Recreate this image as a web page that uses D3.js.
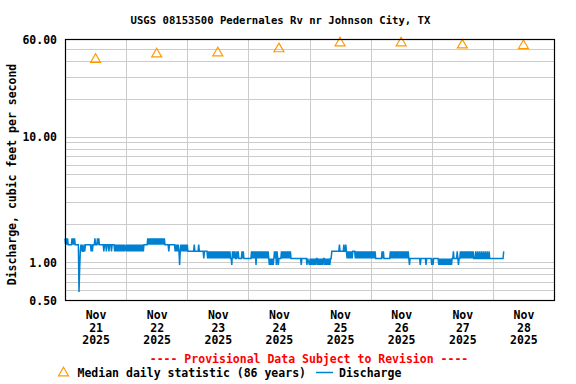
<!DOCTYPE html>
<html>
<head>
<meta charset="utf-8">
<script src="https://cdn.jsdelivr.net/npm/d3@7"></script>
<style>
  body { margin: 0; background: #fff; }
  text { font-family: "DejaVu Sans Mono", "Liberation Mono", monospace; font-weight: bold; }
</style>
</head>
<body>
<div class="chartContainer"></div>
<script>
// daily median statistic, one per day (ft3/s)
const medianDays = ["2025-11-21", "2025-11-22", "2025-11-23", "2025-11-24", "2025-11-25", "2025-11-26", "2025-11-27", "2025-11-28"];
const medianValues = [42.3, 46.8, 47.7, 51.4, 57.3, 57.3, 55.1, 54.5];

// discharge levels seen in the 15-minute record
const levelCodes = ["A", "B", "C", "D", "E", "F", "G"];
const levelValues = [1.55, 1.38, 1.22, 1.07, 0.95, 0.58, 0.88];

// 15-minute readings, one string per day starting Nov 21 00:00
const dischargeCodes = [
  "ABABABBBBBBABABABBBBBBFGCBCBCCBCBBBBBBBBBCBCBBBABBBABABBBBBBBCBBBCBBBCBBBCBBBBCBCBCBCBCBCBCBCBC",
  "BCBCBCBCBCBCBCBCBCBCBCBCBCBCBBBBBBABABABABABABABABABABABABABABBBBBBCBBBBBBBBBCBCBCBCECBCBCBCBCBCBC",
  "CCCCCCCCCCCBCCCCCCBCCCCCCCDCCCCCDCDCDCDCDCDCDCDCDCDCDCDCDCDCDCDCDCDCDDECDCDCDDCDCDDDDDCDCDDDDDD",
  "DDDDDCDCDCDCECDCDCDCDCDCDCDCDCDCDEDEDEDEDCDCECDEDDDDCDCDCDCDCDCDCDCDDDDDDDDDDDDDDDDEDDDDDDDDED",
  "EDEDEDEDEDEDDEDEDEDEDEDDEDEDEDEDEDDCCCCCCCCCCCCBCCCCCCBCCBCDCDCDCDCDCCCCDCDCDCDCDCDCDCDCDCDCDCDC",
  "DCDCDCDCDDDDDDDDDDCDCDDDDDDDDDDCDCDCDCDCDCDCDCDCDCDCDCDCDCDCDEDDDDDDDDDDDDDDDDEDDDDDDDDEDDDDDDDD",
  "EDEDDDDDDDDEDEDEDEDEDEDEDEDEDEDEDDCDDDDDCDEDDCDCDCDCDCDCDCDCDCDCDCDDDCDDCDDCDDCDDCDDCDDCDDCDDDDD",
  "DDDDDDDDDDDDDDDDDC"
];

// axis labels
const yTickValues = [0.5, 1, 10, 60];
const yGridValues = [0.6, 0.7, 0.8, 0.9, 1, 2, 3, 4, 5, 6, 7, 8, 9, 10, 20, 30, 40, 50];
const xTickMonth = "Nov";
const xTickYear = "2025";

const w = 576;
const h = 384;
const plotL = 65, plotR = 554, plotT = 39, plotB = 300;

const start = new Date(2025, 10, 21);
const end = new Date(2025, 10, 29);
const quarter = 15 * 60 * 1000;

const discharge = [];
dischargeCodes.forEach((day, d) => {
  for (let i = 0; i < day.length; i++) {
    discharge.push({
      t: new Date(start.getTime() + (d * 96 + i) * quarter),
      v: levelValues[levelCodes.indexOf(day[i])]
    });
  }
});

const medians = medianDays.map((s, i) => {
  const p = s.split("-").map(Number);
  return { t: new Date(p[0], p[1] - 1, p[2], 12), v: medianValues[i] };
});

const x = d3.scaleTime().domain([start, end]).range([plotL, plotR]);
const y = d3.scaleLog().domain([0.5, 60]).range([plotB, plotT]);

const svg = d3.select(".chartContainer").append("svg")
  .attr("width", w).attr("height", h);

// grid
svg.append("g").selectAll("line").data(yGridValues).enter().append("line")
  .attr("x1", plotL).attr("x2", plotR)
  .attr("y1", d => Math.round(y(d)) + 0.5).attr("y2", d => Math.round(y(d)) + 0.5)
  .attr("stroke", "#cccccc").attr("stroke-width", 1);

svg.append("g").selectAll("line").data(d3.timeDay.range(d3.timeDay.offset(start, 1), end)).enter().append("line")
  .attr("x1", d => Math.round(x(d)) + 0.5).attr("x2", d => Math.round(x(d)) + 0.5)
  .attr("y1", plotT).attr("y2", plotB)
  .attr("stroke", "#cccccc").attr("stroke-width", 1);

// discharge line
const line = d3.line().x(d => x(d.t)).y(d => y(d.v));
svg.append("path").datum(discharge)
  .attr("d", line)
  .attr("fill", "none")
  .attr("stroke", "#0080d0")
  .attr("stroke-width", 1.5);

// median triangles
const tri = "M0,-4.8L5,3.8L-5,3.8Z";
svg.append("g").selectAll("path").data(medians).enter().append("path")
  .attr("d", tri)
  .attr("transform", d => "translate(" + x(d.t) + "," + (y(d.v) + 0.5) + ")")
  .attr("fill", "none")
  .attr("stroke", "#ff9900")
  .attr("stroke-width", 1.2);

// frame
svg.append("rect")
  .attr("x", plotL + 0.5).attr("y", plotT + 0.5)
  .attr("width", plotR - plotL).attr("height", plotB - plotT)
  .attr("fill", "none").attr("stroke", "#000").attr("stroke-width", 1.2);

// axes
const yAxis = d3.axisLeft(y).tickValues(yTickValues).tickFormat(d3.format(".2f")).tickSize(0).tickPadding(8);
const gy = svg.append("g").attr("transform", "translate(" + plotL + ",0)").call(yAxis);
gy.select(".domain").remove();
gy.selectAll("text").attr("font-size", "11.5px").attr("fill", "#000")
  .attr("font-family", "DejaVu Sans Mono").attr("font-weight", "bold").attr("dy", "0.37em");

const xAxis = d3.axisBottom(x).tickValues(medians.map(d => d.t)).tickSize(0).tickFormat("");
const gx = svg.append("g").attr("transform", "translate(0," + plotB + ")").call(xAxis);
gx.select(".domain").remove();
gx.selectAll(".tick text").each(function (d) {
  const t = d3.select(this).attr("y", 0).attr("dy", null)
    .attr("font-size", "11.5px").attr("fill", "#000")
    .attr("font-family", "DejaVu Sans Mono").attr("font-weight", "bold");
  [xTickMonth, String(d.getDate()), xTickYear].forEach((s, i) => {
    t.append("tspan").attr("x", 0).attr("y", 19 + i * 12.7).text(s);
  });
});

// titles
svg.append("text").attr("x", 280.5).attr("y", 23.5).attr("text-anchor", "middle")
  .attr("font-size", "10.6px").text("USGS 08153500 Pedernales Rv nr Johnson City, TX");

svg.append("text").attr("transform", "translate(16,174.5) rotate(-90)")
  .attr("text-anchor", "middle").attr("font-size", "11.5px")
  .text("Discharge, cubic feet per second");

svg.append("text").attr("x", 309).attr("y", 362.5).attr("text-anchor", "middle")
  .attr("font-size", "11.5px").attr("fill", "#ff0000")
  .text("---- Provisional Data Subject to Revision ----");

// legend
svg.append("path").attr("d", tri).attr("transform", "translate(63.5,372)")
  .attr("fill", "none").attr("stroke", "#ff9900").attr("stroke-width", 1.2);
svg.append("text").attr("x", 77.5).attr("y", 376.5).attr("font-size", "11.5px")
  .text("Median daily statistic (86 years)");
svg.append("line").attr("x1", 316).attr("x2", 333).attr("y1", 372.5).attr("y2", 372.5)
  .attr("stroke", "#0080d0").attr("stroke-width", 1.5);
svg.append("text").attr("x", 339).attr("y", 376.5).attr("font-size", "11.5px")
  .text("Discharge");
</script>
</body>
</html>
